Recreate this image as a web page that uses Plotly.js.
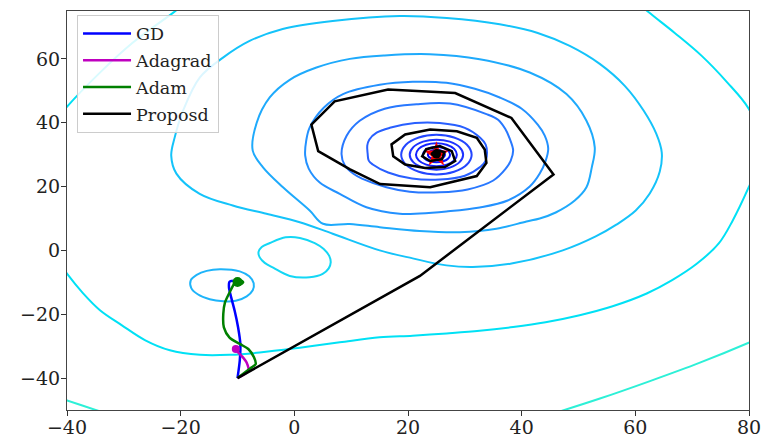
<!DOCTYPE html>
<html>
<head>
<meta charset="utf-8">
<script src="https://cdn.plot.ly/plotly-3.0.1.min.js"></script>
<style>html,body{margin:0;padding:0;background:#fff;}#chart{width:762px;height:439px;}</style>
</head>
<body>
<div id="chart"></div>
<script>
// ---- contour level 1 (outermost) ----
const L1A_X = [-42, -40, -35.1, -32.5];
const L1A_Y = [-45.8, -47.0, -49.9, -51.4];
const L1B_X = [45.85, 53.77, 62.57, 71.36, 79.95, 83.65];
const L1B_Y = [-50.94, -46.41, -40.94, -35.16, -28.91, -25.94];
// ---- contour level 2 ----
const L2A_X = [-42, -40.1, -34.2, -28.4, -21.3, -19.5];
const L2A_Y = [40.5, 44.8, 55.7, 65.1, 74.5, 77];
const L2B_X = [59.02, 62.31, 66.93, 71.68, 76.08, 79.95, 81.71, 81.89, 79.95, 77.14, 74.68, 70.8, 66.4, 62.0, 56.0, 50.2, 44.2, 38.5, 32.6, 26.8, 20.8, 15.0, 8.0, 0.96, -6.1, -11.4, -16.6, -21.9, -26.3, -30.4, -34.2, -37.2, -40.0, -42.2];
const L2B_Y = [79.69, 74.69, 68.13, 60.94, 52.81, 44.38, 35.94, 28.13, 19.78, 9.38, 2.19, -4.2, -9.4, -13.5, -17.5, -20.3, -22.5, -24.0, -25.2, -26.0, -26.7, -27.2, -28.8, -30.5, -32.0, -32.7, -32.7, -31.3, -28.1, -23.4, -18.75, -13.4, -7.3, -1.6];
const L2C_X = [-6.3, -5.74, -4.31, -1.52, 0.98, 3.59, 5.17, 6.14, 6.4, 6.05, 4.99, 2.69, -0.81, -3.72, -5.21, -6.09, -6.3];
const L2C_Y = [-0.47, 1.09, 2.31, 4.09, 3.91, 2.31, 0.47, -1.72, -3.75, -5.63, -7.34, -8.41, -8.0, -5.41, -3.91, -2.19, -0.47];
// ---- contour level 3 ----
const L3_X = [-7.87, -2.05, 6.75, 18.55, 26.82, 36.14, 42.83, 48.46, 53.74, 58.14, 61.48, 63.68, 64.65, 64.30, 62.54, 60.07, 56.73, 53.03, 47.23, 38.43, 31.39, 26.76, 20.83, 15.02, 6.75, 0.95, -4.91, -10.84, -16.65, -20.75, -21.66, -21.05, -19.59, -16.65, -12.55, -7.87];
const L3_Y = [65.63, 69.38, 71.88, 73.44, 72.81, 70.84, 68.13, 64.06, 58.44, 51.56, 43.75, 36.56, 30.63, 24.69, 17.81, 12.5, 8.13, 4.38, 0.0, -4.06, -5.22, -4.69, -2.5, 0.0, 5.22, 8.84, 11.47, 14.06, 17.72, 24.06, 29.69, 35.41, 43.75, 54.16, 60.41, 65.63];
// ---- contour level 4 (incl. small loop) ----
const L4_X = [-7.32, -6.62, -4.33, -0.81, 3.89, 9.76, 15.9, 23.82, 32.62, 41.42, 47.88, 51.4, 52.86, 52.33, 51.4, 49.34, 45.99, 43.18, 40.84, 35.56, 29.1, 22.06, 15.02, 9.74, 5.05, 2.7, -2.0, -5.51, -7.32];
const L4_Y = [31.25, 40.0, 47.91, 53.44, 57.28, 60.0, 61.09, 61.47, 59.91, 55.72, 48.97, 40.63, 32.28, 25.94, 19.78, 15.63, 11.88, 10.0, 9.06, 6.78, 5.72, 6.09, 7.28, 8.28, 8.34, 12.5, 19.78, 26.03, 31.25];
const L4B_X = [-9.61, -7.94, -7.15, -7.32, -8.38, -10.31, -12.5, -14.89, -17.0, -18.15, -18.23, -17.18, -15.42, -13.09, -9.61];
const L4B_Y = [-6.56, -8.13, -10.31, -12.5, -14.38, -15.78, -15.94, -15.31, -13.75, -11.72, -9.38, -7.66, -6.41, -5.91, -6.56];
// ---- contour levels 5-7 ----
const L5_X = [1.91, 2.09, 2.71, 5.17, 8.57, 15.02, 20.83, 26.76, 31.77, 36.14, 40.01, 42.83, 44.06, 44.67, 44.23, 43.18, 41.42, 37.55, 32.62, 26.76, 22.06, 18.54, 12.68, 7.99, 4.47, 2.53, 1.91];
const L5_Y = [29.69, 34.38, 38.53, 44.69, 48.97, 51.88, 52.81, 52.5, 50.63, 47.91, 44.38, 39.38, 35.94, 31.88, 28.13, 24.06, 20.0, 15.63, 13.44, 12.19, 11.56, 11.47, 13.53, 17.72, 21.25, 25.63, 29.69];
const L6_X = [8.3, 9.2, 11.5, 15.9, 21.5, 27.4, 33.8, 35.85, 37.1, 37.9, 38.5, 38.08, 37.2, 35.0, 30.5, 25.6, 20.3, 16.2, 11.9, 10.4, 8.9, 8.3];
const L6_Y = [30.2, 35.9, 40.6, 44.4, 45.8, 46.0, 42.7, 40.94, 38.1, 35.0, 31.3, 28.13, 25.6, 21.9, 19.1, 18.2, 18.4, 19.8, 22.5, 24.0, 26.6, 30.2];
const L7_X = [12.9, 12.83, 13.18, 14.48, 16.8, 21.2, 25.6, 30.0, 32.7, 33.67, 33.9, 33.67, 32.8, 30.0, 25.6, 20.7, 16.5, 13.8, 13.09, 12.9];
const L7_Y = [30.3, 32.81, 34.69, 36.88, 38.4, 39.9, 39.9, 38.4, 35.3, 33.13, 30.6, 28.13, 26.3, 23.4, 22.2, 22.5, 24.4, 26.9, 28.13, 30.3];
// ---- inner rings ----
const R8_X = [31.2, 30.37, 28.1, 25, 21.9, 19.63, 18.8, 19.63, 21.9, 25, 28.1, 30.37, 31.2];
const R8_Y = [30, 33.1, 35.37, 36.2, 35.37, 33.1, 30, 26.9, 24.63, 23.8, 24.63, 26.9, 30];
const R9_X = [29.7, 29.07, 27.35, 25, 22.65, 20.93, 20.3, 20.93, 22.65, 25, 27.35, 29.07, 29.7];
const R9_Y = [30, 32.35, 34.07, 34.7, 34.07, 32.35, 30, 27.65, 25.93, 25.3, 25.93, 27.65, 30];
const R10_X = [28.6, 28.12, 26.8, 25, 23.2, 21.88, 21.4, 21.88, 23.2, 25, 26.8, 28.12, 28.6];
const R10_Y = [30, 31.8, 33.12, 33.6, 33.12, 31.8, 30, 28.2, 26.88, 26.4, 26.88, 28.2, 30];
const R11_X = [27.4, 27.08, 26.2, 25, 23.8, 22.92, 22.6, 22.92, 23.8, 25, 26.2, 27.08, 27.4];
const R11_Y = [30, 31.2, 32.08, 32.4, 32.08, 31.2, 30, 28.8, 27.92, 27.6, 27.92, 28.8, 30];
const R12_X = [26.5, 26.3, 25.75, 25, 24.25, 23.7, 23.5, 23.7, 24.25, 25, 25.75, 26.3, 26.5];
const R12_Y = [30, 30.75, 31.3, 31.5, 31.3, 30.75, 30, 29.25, 28.7, 28.5, 28.7, 29.25, 30];

// ---- optimiser paths ----
const GD_X = [-10.0, -9.6, -9.5, -9.9, -10.5, -11.1, -11.5, -11.4, -10.8];
const GD_Y = [-40.0, -34.5, -29.3, -24.1, -18.9, -14.8, -11.6, -9.8, -9.5];
const ADAGRAD_X = [-10.0, -8.1, -8.4, -9.3, -10.2, -10.3];
const ADAGRAD_Y = [-40.0, -37.7, -35.1, -33.0, -31.4, -30.9];
const ADAM_X = [-10.0, -7.5, -6.8, -7.1, -8.1, -9.6, -11.4, -12.4, -12.5, -12.2, -11.4, -10.5, -10.3, -9.5, -9.0, -9.5, -10.4, -10.0];
const ADAM_Y = [-40.0, -36.6, -35.6, -33.5, -30.9, -29.3, -27.3, -24.1, -19.9, -16.3, -13.2, -10.1, -9.5, -9.3, -10.0, -10.6, -10.2, -9.9];
const PROP_X = [-10, 22.1, 45.6, 38.2, 28.3, 16.5, 7.1, 3.0, 4.2, 9.8, 15.1, 23.9, 32.1, 33.8, 33.5, 32.1, 28.6, 23.9, 19.5, 17.1, 17.4, 19.5, 23.0, 26.5, 28.3, 27.7, 25.6, 23.2, 22.5, 23.9, 26.0, 26.4, 25.0, 24.1, 25.1, 25.5, 25.0];
const PROP_Y = [-40, -8.0, 23.8, 41.5, 49.3, 50.4, 46.7, 39.4, 31.1, 25.4, 20.8, 19.8, 23.3, 27.4, 31.6, 35.3, 37.3, 37.9, 36.3, 33.2, 29.5, 26.9, 25.8, 26.1, 28.0, 31.1, 32.7, 31.7, 29.5, 28.0, 28.6, 30.8, 31.4, 30.2, 29.5, 30.5, 30.2];
const OPT_X = [25];
const OPT_Y = [30];
const SERIES_NAMES = ['GD', 'Adagrad', 'Adam', 'Proposd'];
const X_TICKS = [-40, -20, 0, 20, 40, 60, 80];
const Y_TICKS = [-40, -20, 0, 20, 40, 60];

const contourSpecs = [
  [L1A_X, L1A_Y, 'rgb(45,240,215)'],
  [L1B_X, L1B_Y, 'rgb(45,240,215)'],
  [L2A_X, L2A_Y, 'rgb(0,225,245)'],
  [L2B_X, L2B_Y, 'rgb(0,225,245)'],
  [L2C_X, L2C_Y, 'rgb(20,215,245)'],
  [L3_X, L3_Y, 'rgb(20,195,250)'],
  [L4_X, L4_Y, 'rgb(30,170,252)'],
  [L4B_X, L4B_Y, 'rgb(30,180,250)'],
  [L5_X, L5_Y, 'rgb(35,145,255)'],
  [L6_X, L6_Y, 'rgb(40,120,255)'],
  [L7_X, L7_Y, 'rgb(40,95,255)'],
  [R8_X, R8_Y, 'rgb(35,70,255)'],
  [R9_X, R9_Y, 'rgb(30,50,255)'],
  [R10_X, R10_Y, 'rgb(20,35,255)'],
  [R11_X, R11_Y, 'rgb(10,20,255)'],
  [R12_X, R12_Y, 'rgb(0,0,255)']
];

const traces = contourSpecs.map(s => ({
  x: s[0], y: s[1], type: 'scatter', mode: 'lines',
  line: {color: s[2], width: 2, shape: 'spline', smoothing: 1},
  showlegend: false, hoverinfo: 'skip'
}));

traces.push({x: OPT_X, y: OPT_Y, type: 'scatter', mode: 'markers',
  marker: {symbol: 'star', color: 'red', size: 19, line: {width: 0}}, showlegend: false});

traces.push({x: GD_X, y: GD_Y, type: 'scatter', mode: 'lines', name: SERIES_NAMES[0], legendgroup: 'a',
  line: {color: '#0000ff', width: 2.5, shape: 'spline', smoothing: 0.8}});
traces.push({x: ADAGRAD_X, y: ADAGRAD_Y, type: 'scatter', mode: 'lines', name: SERIES_NAMES[1], legendgroup: 'b',
  line: {color: '#bf00bf', width: 2.5, shape: 'spline', smoothing: 0.8}});
traces.push({x: ADAGRAD_X.slice(-1), y: ADAGRAD_Y.slice(-1), type: 'scatter', mode: 'markers', showlegend: false,
  marker: {color: '#bf00bf', size: 8}});
traces.push({x: ADAM_X, y: ADAM_Y, type: 'scatter', mode: 'lines', name: SERIES_NAMES[2], legendgroup: 'c',
  line: {color: '#008000', width: 2.5, shape: 'spline', smoothing: 0.8}});
traces.push({x: ADAM_X.slice(-1), y: ADAM_Y.slice(-1), type: 'scatter', mode: 'markers', showlegend: false,
  marker: {color: '#008000', size: 10}});
traces.push({x: PROP_X, y: PROP_Y, type: 'scatter', mode: 'lines', name: SERIES_NAMES[3], legendgroup: 'd',
  line: {color: '#000000', width: 2.5}});
traces.push({x: PROP_X.slice(-1), y: PROP_Y.slice(-1), type: 'scatter', mode: 'markers', showlegend: false,
  marker: {color: '#000000', size: 9}});

const axisFont = {family: 'DejaVu Serif', size: 19, color: '#222'};
const layout = {
  width: 762, height: 439,
  margin: {l: 67, r: 13, t: 11, b: 29, pad: 0},
  paper_bgcolor: '#ffffff', plot_bgcolor: '#ffffff',
  xaxis: {range: [-40, 80], tickvals: X_TICKS, ticks: 'outside', ticklen: 5, tickcolor: '#333',
    ticklabelstandoff: -5,
    showgrid: false, zeroline: false, showline: true, mirror: true, linecolor: '#444', linewidth: 1,
    tickfont: axisFont},
  yaxis: {range: [-50, 75], tickvals: Y_TICKS, ticks: 'outside', ticklen: 5, tickcolor: '#333',
    ticklabelstandoff: -3,
    showgrid: false, zeroline: false, showline: true, mirror: true, linecolor: '#444', linewidth: 1,
    tickfont: axisFont},
  legend: {x: 0.0147, y: 0.991, xanchor: 'left', yanchor: 'top', bgcolor: 'rgba(255,255,255,0.85)',
    bordercolor: '#cccccc', borderwidth: 1, font: {family: 'DejaVu Serif', size: 17.5, color: '#222'},
    tracegroupgap: 1, itemwidth: 48},
  showlegend: true
};

Plotly.newPlot('chart', traces, layout, {displayModeBar: false, staticPlot: true});
</script>
</body>
</html>
